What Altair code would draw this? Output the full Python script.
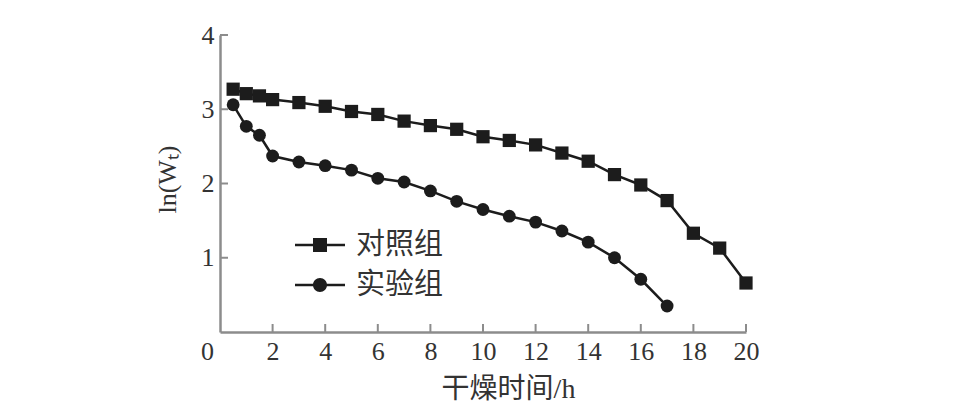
import altair as alt
import pandas as pd

groups = ["对照组", "实验组"]
control_hours = [0.5, 1, 1.5, 2, 3, 4, 5, 6, 7, 8, 9, 10, 11, 12, 13, 14, 15, 16, 17, 18, 19, 20]
control_ln = [3.27, 3.21, 3.18, 3.13, 3.09, 3.04, 2.97, 2.93, 2.84, 2.78, 2.73, 2.63, 2.58, 2.52,
              2.41, 2.30, 2.12, 1.98, 1.77, 1.33, 1.13, 0.66]
exp_hours = [0.5, 1, 1.5, 2, 3, 4, 5, 6, 7, 8, 9, 10, 11, 12, 13, 14, 15, 16, 17]
exp_ln = [3.06, 2.77, 2.65, 2.37, 2.29, 2.24, 2.18, 2.07, 2.02, 1.90, 1.76, 1.65, 1.56, 1.48,
          1.36, 1.21, 1.00, 0.71, 0.35]
x_label_values = [0, 2, 4, 6, 8, 10, 12, 14, 16, 18, 20]
x_tick_values = [2, 4, 6, 8, 10, 12, 14, 16, 18, 20]
y_tick_values = [1, 2, 3, 4]

rows = []
for h, v in zip(control_hours, control_ln):
    rows.append({"hours": h, "ln": v, "group": groups[0]})
for h, v in zip(exp_hours, exp_ln):
    rows.append({"hours": h, "ln": v, "group": groups[1]})
df = pd.DataFrame(rows)

W, H = 526, 297
AXIS_GREY = "#8c8c8c"
INK = "#1c1c1c"
SERIF = "Liberation Serif, Noto Sans CJK SC"

x_axis = alt.Axis(
    values=x_label_values, ticks=False, grid=False,
    domainColor=AXIS_GREY, domainWidth=2.5,
    labelFont="Liberation Serif", labelFontSize=26, labelColor="#333333",
    labelPadding=6, labelFlush=False, labelOverlap=False,
    labelOffset={"condition": {"test": "datum.value == 0", "value": -13}, "value": 0},
    title="干燥时间/h", titleFont=SERIF, titleFontSize=28, titleFontWeight="normal",
    titleColor="#333333", titleX=288, titleY=43, titleBaseline="top", titleAlign="center",
)
y_axis = alt.Axis(
    values=y_tick_values, ticks=False, grid=False,
    domainColor=AXIS_GREY, domainWidth=2.5,
    labelFont="Liberation Serif", labelFontSize=26, labelColor="#333333",
    labelPadding=6, labelFlush=False, labelOverlap=False,
    title="ln(Wₜ)", titleFont=SERIF, titleFontSize=26, titleFontWeight="normal",
    titleColor="#333333", titleAngle=270, titleX=-53, titleY=144,
    titleBaseline="middle", titleAlign="center",
)
x_scale = alt.Scale(domain=[0, 20], nice=False, zero=True)
y_scale = alt.Scale(domain=[0, 4], nice=False)


def X():
    return alt.X("hours:Q", scale=x_scale, axis=x_axis)


def Y():
    return alt.Y("ln:Q", scale=y_scale, axis=y_axis)


base = alt.Chart(df)

lines = base.mark_line(color=INK, strokeWidth=2.5).encode(x=X(), y=Y(), detail="group:N")

points = base.mark_point(filled=True, color=INK, opacity=1).encode(
    x=X(), y=Y(),
    shape=alt.Shape("group:N", scale=alt.Scale(domain=groups, range=["square", "circle"]), legend=None),
    size=alt.Size("group:N", scale=alt.Scale(domain=groups, range=[175, 165]), legend=None),
)

# legend glyphs: a thin bar (the line) plus the marker, in Vega's [-1, 1] symbol space
bar = "M-1,-0.05L1,-0.05L1,0.05L-1,0.05Z"
sq_path = bar + "M-0.28,-0.28L0.28,-0.28L0.28,0.28L-0.28,0.28Z"
ci_path = bar + "M0.28,0A0.28,0.28 0 1 1 -0.28,0A0.28,0.28 0 1 1 0.28,0Z"

legend_layer = base.mark_point(filled=True, fill=INK, opacity=0).encode(
    x=X(), y=Y(),
    shape=alt.Shape(
        "group:N",
        scale=alt.Scale(domain=groups, range=[sq_path, ci_path]),
        legend=alt.Legend(
            title=None, orient="none", legendX=75, legendY=185, padding=0,
            symbolSize=2500, symbolStrokeWidth=0,
            symbolFillColor=INK, symbolOpacity=1,
            labelFont=SERIF, labelFontSize=29, labelColor="#333333", labelOffset=11,
            rowPadding=-5, labelLimit=300,
        ),
    ),
)

xt = pd.DataFrame({"hours": x_tick_values})
x_ticks = alt.Chart(xt).mark_rule(color=AXIS_GREY, strokeWidth=2).encode(
    x=X(), y=alt.value(H), y2=alt.value(H - 8)
)
yt = pd.DataFrame({"ln": y_tick_values})
y_ticks = alt.Chart(yt).mark_rule(color=AXIS_GREY, strokeWidth=2).encode(
    y=Y(), x=alt.value(0), x2=alt.value(8)
)

chart = (
    alt.layer(lines, x_ticks, y_ticks, points, legend_layer)
    .resolve_scale(shape="independent", size="independent")
    .properties(
        width=W, height=H,
        autosize=alt.AutoSizeParams(type="none"),
        padding={"left": 212, "top": 27, "right": 200, "bottom": 72},
        background="white",
    )
    .configure_view(stroke=None)
)

chart.save("out.html", embed_options={"renderer": "svg", "actions": False})
